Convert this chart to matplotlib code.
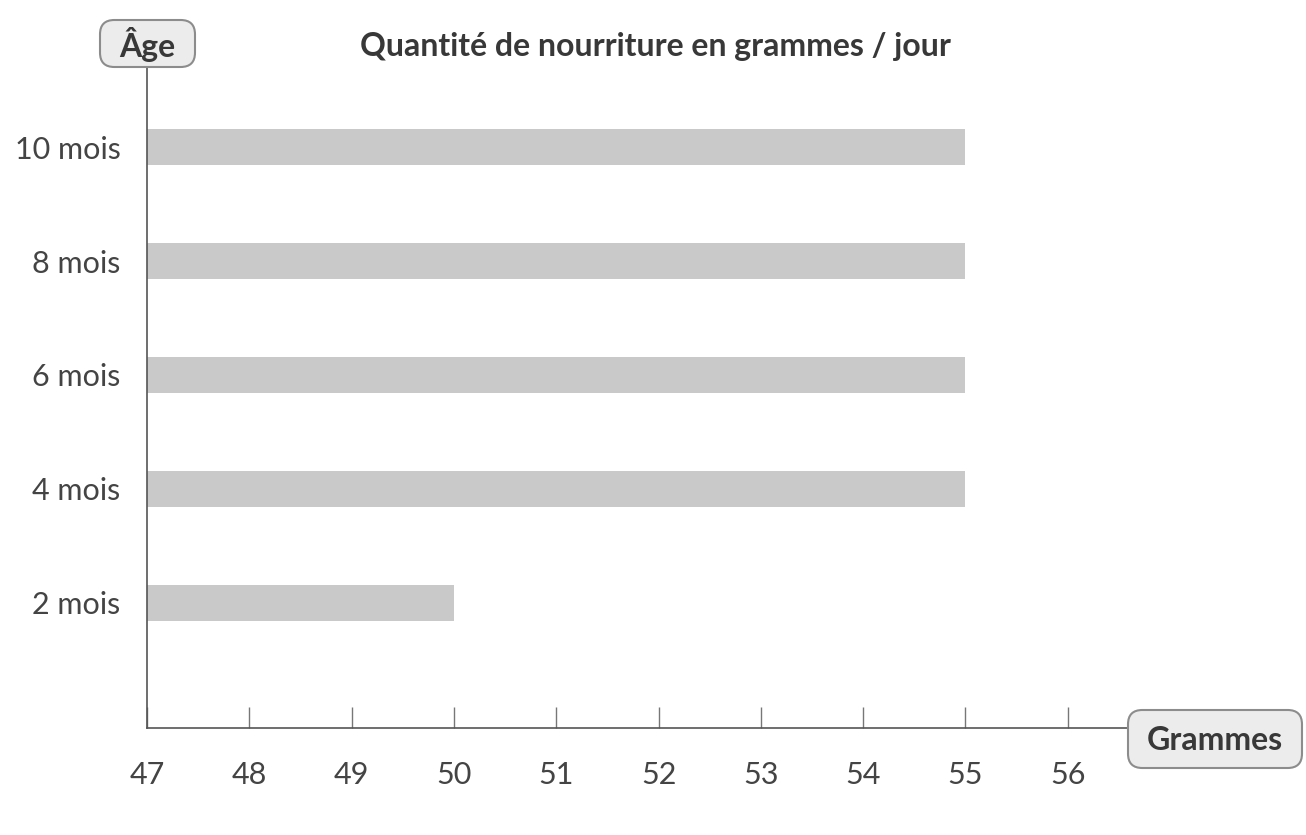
import matplotlib.pyplot as plt
from matplotlib.patches import FancyBboxPatch

# data
ages = ['2 mois', '4 mois', '6 mois', '8 mois', '10 mois']
grammes = [50, 55, 55, 55, 55]
xticks = [47, 48, 49, 50, 51, 52, 53, 54, 55, 56]

plt.rcParams['font.family'] = ['Lato', 'DejaVu Sans']

W, H = 1306, 835
fig = plt.figure(figsize=(13.06, 8.35), dpi=100)
ax = fig.add_axes([0.1126, 0.128, 0.7527, 0.794])

base = 47
ax.barh(range(len(ages)), [g - base for g in grammes], left=base, height=0.32,
        color='#c9c9c9', edgecolor='none')

ax.set_xlim(47, 56.61)
ax.set_ylim(-1.1, 4.72)

ax.set_yticks(range(len(ages)))
ax.set_yticklabels(ages, fontsize=22, color='#444444')
ax.tick_params(axis='y', length=0, pad=19)

ax.set_xticks(xticks)
ax.set_xticklabels([str(t) for t in xticks], fontsize=22, color='#444444')
ax.tick_params(axis='x', direction='in', length=15, width=1, color='#777777', pad=24)

for s in ['top', 'right']:
    ax.spines[s].set_visible(False)
for s in ['left', 'bottom']:
    ax.spines[s].set_color('#555555')
    ax.spines[s].set_linewidth(1.2)

fig.text(0.5019, 0.944, 'Quantité de nourriture en grammes / jour', ha='center', va='center',
         fontsize=23, fontweight='bold', color='#383838')

# label boxes (pixel rectangles: x0, y0 from top, x1, y1)
def label_box(text, x0, y0, x1, y1):
    p = FancyBboxPatch((x0 / W, 1 - y1 / H), (x1 - x0) / W, (y1 - y0) / H,
                       boxstyle='round,pad=0,rounding_size=0.011',
                       transform=fig.transFigure, facecolor='#ececec',
                       edgecolor='#8c8c8c', linewidth=1.5, mutation_aspect=W / H)
    fig.patches.append(p)
    fig.text((x0 + x1) / 2 / W, 1 - ((y0 + y1) / 2 + 1) / H, text, ha='center', va='center',
             fontsize=23, fontweight='bold', color='#383838')

label_box('Âge', 100, 20, 195, 67)
label_box('Grammes', 1128, 710, 1302, 768)

fig.savefig('out.png', dpi=100)
